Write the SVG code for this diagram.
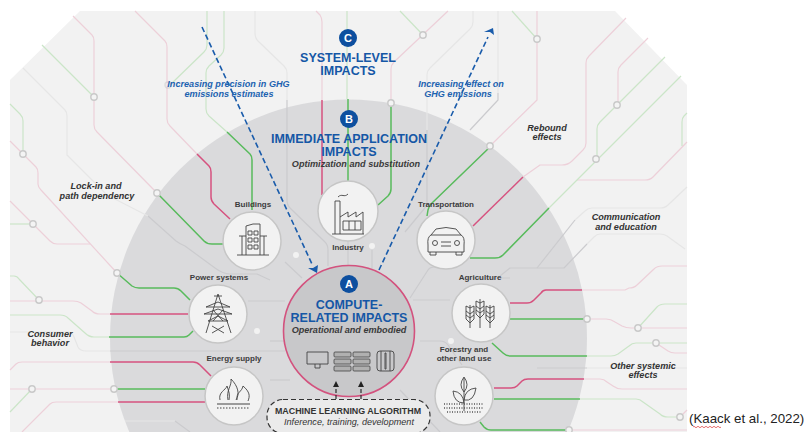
<svg xmlns="http://www.w3.org/2000/svg" width="807" height="432" viewBox="0 0 807 432">
<style>
text{font-family:"Liberation Sans",Arial,sans-serif;text-anchor:middle}
.l{fill:none;stroke-width:1.2;stroke-linejoin:round}
.pl{stroke:#edd0d9}.gl{stroke:#cbe5c8}.fg{stroke:#e6e6e6}
.dg{stroke:#cbcbce}.pd{stroke:#d6527f;stroke-width:1.5}.gd{stroke:#58bb5c;stroke-width:1.5}
.j{fill:#f4f4f4;stroke:#c9c9c9;stroke-width:1.4}
.w{fill:#f2f2f2;stroke:none}
.n{fill:#f2f2f2;stroke:#c6c6c6;stroke-width:1.5}
.nl{font-size:8px;font-weight:bold;fill:#3c3c3c}
.h{font-size:12.5px;font-weight:bold;fill:#1557a6}
.sub{font-size:9.1px;font-weight:bold;font-style:italic;fill:#3a3a3a}
.arrowlab{font-size:9.1px;font-weight:bold;font-style:italic;fill:#1c62b0}
.eff{font-size:9.1px;font-weight:bold;font-style:italic;fill:#333}
.badge{fill:#0d4f9f}
.bt{font-size:11px;font-weight:bold;fill:#fff}
.ic{fill:none;stroke:#444;stroke-width:.9}
.ar{fill:none;stroke:#1a5cab;stroke-width:1.6;stroke-dasharray:5.500 3}
</style>
<path fill="#f2f2f2" d="M80 11H615L687 85V432H10V80Z"/>
<circle cx="348.500" cy="338" r="238.500" fill="#dadadc"/>
<g id="connectors">
<g class="l fg">
<path d="M23 68L65 110Q67 112 67 116V155L107 195L148 216"/><path d="M10 332H68Q72 332 74 337L78 347Q80 351 86 351H110"/>
<path d="M125 421H175"/><path d="M473 11V22Q473 26 470 29L430 68Q427 71 427 75V130"/><path d="M498 11V93"/>
<path d="M255 11V33Q255 38 258 41L284 66Q287 69 287 73V100"/><path d="M687 187L668 205Q665 208 660 208H592Q588 208 585 211L575 220"/><path d="M685 249L667 236Q664 234 660 234H600Q597 234 594 237L587 244"/><path d="M587 368H687"/>
</g>
<g class="l dg">
<path d="M148 216L176 241Q180 244 185 246L215 268Q223 274 230 274H257L270 280"/><path d="M248 301H285"/><path d="M270 341H285"/><path d="M110 351H285"/>
<path d="M175 421L190 432"/><path d="M287 100V200Q287 205 290 208L325 242Q328 245 328 250V266"/><path d="M427 130V203Q427 206 424 209L405 232"/><path d="M348 241V266"/><path d="M372 250V270"/>
<path d="M285 262L302 278"/><path d="M410 298L428 270Q430 267 434 267H447"/><path d="M498 93V100L470 130"/><path d="M420 341H440Q445 341 448 345L462 365"/>
<path d="M575 220L537 268"/><path d="M587 244L564 268H510L500 276"/><path d="M510 278H470"/><path d="M537 368H587"/><path d="M270 380H290"/><path d="M400 390L440 432"/><path d="M413 300H450"/>
</g>
<g class="l pl">
<path d="M73 16L92 35Q94 37 94 41V125Q94 129 97 132L157 193"/><path d="M135 11L165 41Q167 43 167 47V119Q167 123 170 126L197 154"/><path d="M10 141L36 167Q38 169 38 173V184Q38 187 41 190L117 273"/>
<path d="M10 201L50 241Q53 244 57 244H90"/><path d="M10 301H73Q78 301 81 303L92 311Q95 314 100 314H110"/><path d="M10 370L16 364Q18 362 22 362H110"/><path d="M10 389H114"/>
<path d="M22 432L50 404Q52 402 56 402H118"/><path d="M316 11L320 15Q322 18 322 22V100"/><path d="M448 11L394 62Q391 65 391 69V103"/><path d="M537 11V100L490 146"/>
<path d="M626 18L589 56Q586 59 586 63V143Q586 147 583 150L572 161Q568 165 562 165H540L523 177"/><path d="M648 38L621 65Q618 68 618 72V105"/><path d="M687 142L653 177Q650 180 645 180H577"/>
<path d="M687 266H662Q657 266 654 269L637 285Q634 288 629 288L625 290H582"/><path d="M587 319H606Q611 319 615 322L622 326Q626 328 631 328H687"/><path d="M656 343L668 351Q671 353 675 353H687"/>
<path d="M584 379H600Q604 379 607 382L613 386Q617 389 622 389H687"/><path d="M680 417L687 410"/><path d="M569 430H687"/>
</g>
<g class="l gl">
<path d="M42 45L94 97"/><path d="M207 11V45Q207 49 204 52L170 85"/><path d="M224 11V48Q224 52 221 55L209 66Q206 69 206 73V109Q206 113 209 116L227 132"/><path d="M10 104L20 114Q23 117 23 121V154"/>
<path d="M10 224H33"/><path d="M10 276H14Q17 276 19 279L39 300"/><path d="M10 315H60Q65 315 68 318L85 333Q89 337 94 337H109"/><path d="M10 412L32 389"/>
<path d="M347 11V99"/><path d="M400 11L423 35"/><path d="M512 11L537 39"/><path d="M665 57L617 105L600 122Q597 125 597 129V159"/>
<path d="M681 76L549 208"/><path d="M687 113L684 116Q682 118 682 122V146"/><path d="M638 328L657 307Q660 304 665 304H687"/>
<path d="M587 356H611Q615 356 618 354L629 346Q632 343 636 343H687"/><path d="M580 399H636Q640 399 643 402L660 414Q663 417 668 417H680"/>
</g>
<g class="l pd">
<path d="M197 154L209 166Q211 168 211 172V197Q211 201 214 204L230 219"/><path d="M322 100V195"/><path d="M523 177L473 226"/><path d="M110 314H188"/>
<path d="M110 362H193Q197 362 200 365L211 376"/><path d="M118 402H205"/><path d="M582 290H546Q543 290 541 293L534 300Q531 303 527 303H510"/><path d="M584 379H528Q524 379 522 381L517 386Q515 388 511 388H494"/>
</g>
<g class="l gd">
<path d="M157 193L204 241Q207 244 212 244H223"/><path d="M227 132L250 154Q252 156 252 160V210"/><path d="M117 273L132 286Q135 288 139 288H174Q178 288 181 291L190 300"/><path d="M109 337H184Q187 337 189 335L193 331"/>
<path d="M114 389H205"/><path d="M348 99V181"/><path d="M391 103V189Q391 193 388 196L378 205"/><path d="M490 147L432 203Q429 206 428 210L427 216"/>
<path d="M549 208L503 255Q500 258 495 258H470"/><path d="M476 319H587"/><path d="M492 343L503 353Q506 356 511 356H587"/><path d="M494 399H580"/><path d="M480 422L484 427Q487 430 491 430H569"/>
</g>
<g>
<circle class="j" cx="94" cy="97" r="3.200"/><circle class="j" cx="23" cy="154" r="3.200"/><circle class="j" cx="157" cy="193" r="3.200"/>
<circle class="j" cx="33" cy="224" r="3.200"/><circle class="j" cx="117" cy="273" r="3.200"/><circle class="j" cx="39" cy="300" r="3.200"/>
<circle class="j" cx="32" cy="389" r="3.200"/><circle class="j" cx="114" cy="389" r="3.200"/><circle class="j" cx="423" cy="35" r="3.200"/>
<circle class="j" cx="391" cy="103" r="3.200"/><circle class="j" cx="490" cy="146" r="3.200"/><circle class="j" cx="537" cy="39" r="3.200"/>
<circle class="j" cx="617" cy="105" r="3.200"/><circle class="j" cx="596" cy="159" r="3.200"/><circle class="j" cx="587" cy="319" r="3.200"/>
<circle class="j" cx="638" cy="328" r="3.200"/><circle class="j" cx="656" cy="343" r="3.200"/><circle class="j" cx="680" cy="417" r="3.200"/>
<circle class="j" cx="569" cy="430" r="3.200"/><circle class="j" cx="168" cy="85" r="3" opacity=".5"/>
<circle class="w" cx="296" cy="255" r="3"/><circle class="w" cx="372" cy="246" r="3"/><circle class="w" cx="257" cy="331" r="3"/><circle class="w" cx="451" cy="341" r="3"/>
</g>
</g>
<g id="effects">
<text class="eff" x="96" y="189">Lock-in and</text><text class="eff" x="97" y="199">path dependency</text>
<text class="eff" x="50" y="337">Consumer</text><text class="eff" x="50" y="346">behavior</text>
<text class="eff" x="547" y="131">Rebound</text><text class="eff" x="547" y="140">effects</text>
<text class="eff" x="626" y="220">Communication</text><text class="eff" x="626" y="230">and education</text>
<text class="eff" x="643" y="369">Other systemic</text><text class="eff" x="643" y="378">effects</text>
</g>
<g id="level-c"><circle class="badge" cx="348" cy="38" r="9"/><text class="bt" x="348" y="42">C</text>
<text class="h" x="348" y="62">SYSTEM-LEVEL</text><text class="h" x="348" y="75">IMPACTS</text></g>
<g id="level-b"><circle class="badge" cx="349" cy="119" r="9"/><text class="bt" x="349" y="123">B</text>
<text class="h" x="349" y="143">IMMEDIATE APPLICATION</text><text class="h" x="349" y="156">IMPACTS</text>
<text class="sub" x="356" y="167">Optimization and substitution</text></g>
<g id="node-buildings"><circle class="n" cx="252" cy="241" r="29"/><text class="nl" x="253" y="207">Buildings</text>
<path class="ic" d="M237 255H269M242 255V236M264 255V236M246 255V226L253 224H260V255M239 236H246M260 236H267M248 231h4v4h-4zM254 231h4v4h-4zM248 238h4v4h-4zM254 238h4v4h-4zM248 245h4v4h-4zM254 245h4v4h-4z"/></g>
<g id="node-industry"><circle class="n" cx="348" cy="211" r="30"/><text class="nl" x="348" y="250">Industry</text>
<path class="ic" d="M335 234V201H340V234M332 234H364M340 217L348 212V217L356 212V217L363 212V234M343 221h18v9h-18zM349 221v9M355 221v9M338 197C342 193 344 198 348 194"/></g>
<g id="node-transportation"><circle class="n" cx="446" cy="240" r="29"/><text class="nl" x="446" y="207">Transportation</text>
<path class="ic" d="M431 235L436 229Q446 226 456 229L461 235Q465 237 464 245V252H428V245Q427 237 431 235ZM431 235H461M430 252V255H436V252M456 252V255H462V252"/><circle class="ic" cx="435" cy="243" r="2.500"/><circle class="ic" cx="457" cy="243" r="2.500"/><path class="ic" d="M441 242H451M441 246H451"/></g>
<g id="node-agriculture"><circle class="n" cx="481" cy="313" r="29"/><text class="nl" x="480" y="280">Agriculture</text>
<path class="ic" d="M480 299V328M470 305V328M490 305V328M476 301L480 303L484 301V314L480 318L476 314ZM466 306L470 308L474 306V319L470 323L466 319ZM486 306L490 308L494 306V319L490 323L486 319ZM476 306L480 309L484 306M476 310L480 313L484 310M466 311L470 314L474 311M466 315L470 318L474 315M486 311L490 314L494 311M486 315L490 318L494 315"/></g>
<g id="node-forestry"><circle class="n" cx="464" cy="396" r="29"/><text class="nl" x="464" y="352">Forestry and</text><text class="nl" x="464" y="361">other land use</text>
<path class="ic" d="M464 378V411M464 377Q458 385 464 392Q470 385 464 377ZM464 403Q454 403 453 391Q463 392 464 403ZM464 400Q474 402 476 388Q465 389 464 400Z"/><path d="M444 404H484M444 408H484M447 412H481" fill="none" stroke="#555" stroke-width="1.600" stroke-dasharray="1 1.500"/></g>
<g id="node-power"><circle class="n" cx="218" cy="314" r="29"/><text class="nl" x="219" y="280">Power systems</text>
<path class="ic" d="M218 294L206 333M218 294L231 333M214 296H222M206 307L218 302L230 307ZM204 314L218 309L232 314ZM208 321L218 316L228 321ZM212 326L224 333M224 326L212 333M213 310L223 321M223 310L213 321"/></g>
<g id="node-energy"><circle class="n" cx="234" cy="396" r="29"/><text class="nl" x="234" y="361">Energy supply</text>
<path class="ic" d="M220 400C218 392 226 390 227 386C229 392 230 394 229 400M228 400C226 390 232 386 231 379C238 386 240 394 236 400M237 400C236 392 242 392 243 386C250 392 250 396 248 401"/><path d="M217 404H250" stroke="#444" fill="none"/><path d="M217 408H250" stroke="#444" fill="none" stroke-dasharray="1.500 1.500"/></g>
<g id="node-compute"><circle cx="349" cy="331" r="65.500" fill="#c8c8ca" stroke="#d3527e" stroke-width="1.600"/>
<circle class="badge" cx="349" cy="284" r="9"/><text class="bt" x="349" y="288">A</text>
<text class="h" x="349" y="309">COMPUTE-</text><text class="h" x="349" y="322">RELATED IMPACTS</text>
<text class="sub" x="349" y="333">Operational and embodied</text>
<path class="ic" d="M307 352H328V364H307ZM315 364V368H320V364"/>
<g fill="#b0b0b0" stroke="#444" stroke-width=".8"><rect x="334" y="352" width="17" height="5" rx="1"/><rect x="353" y="352" width="17" height="5" rx="1"/><rect x="334" y="359" width="17" height="5" rx="1"/><rect x="353" y="359" width="17" height="5" rx="1"/><rect x="334" y="366" width="17" height="5" rx="1"/><rect x="353" y="366" width="17" height="5" rx="1"/></g>
<path class="ic" d="M380 351H391Q394 351 394 354V368Q394 371 391 371H380Q377 371 377 368V354Q377 351 380 351ZM381 351V371M390 351V371M385 353H386V369H385Z"/></g>
<g id="node-ml"><rect x="267" y="399.500" width="163" height="34" rx="16" fill="#ebebeb" stroke="#333" stroke-width="1.200" stroke-dasharray="5 3"/>
<text x="348" y="413.500" style="font-size:8.900px;font-weight:bold;fill:#333">MACHINE LEARNING ALGORITHM</text>
<text x="349" y="425" style="font-size:9.100px;font-style:italic;fill:#333">Inference, training, development</text>
<path d="M336 399V386M361 399V386" fill="none" stroke="#222" stroke-width="1.100" stroke-dasharray="4 2"/>
<path d="M336 381L333 387H339ZM361 381L358 387H364Z" fill="#222"/></g>
<g id="arrows">
<path class="ar" d="M202 27L312 264"/><path fill="#1a5cab" d="M317 273L308 268L313 268L318 265Z"/>
<path class="ar" d="M379 270L488 37"/><path fill="#1a5cab" d="M493 28L484 32L490 32L494 35Z"/>
<text class="arrowlab" x="228.500" y="87">Increasing precision in GHG</text><text class="arrowlab" x="229" y="97">emissions estimates</text>
<text class="arrowlab" x="461" y="87">Increasing effect on</text><text class="arrowlab" x="458" y="97">GHG emissions</text>
</g>
<g id="citation"><text x="689" y="423" style="text-anchor:start;font-size:13.300px;fill:#222">(Kaack et al., 2022)</text>
<path d="M693 427q1-1.500 2 0t2 0t2 0t2 0t2 0t2 0t2 0t2 0t2 0t2 0t2 0t2 0t2 0t2 0" fill="none" stroke="#d33" stroke-width=".7"/></g>
</svg>
